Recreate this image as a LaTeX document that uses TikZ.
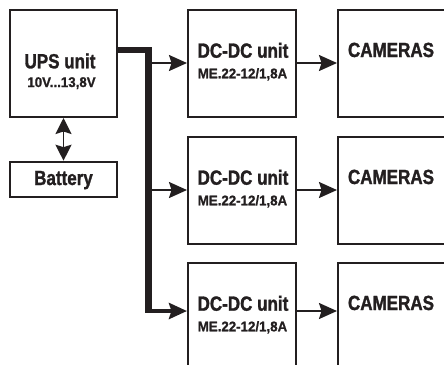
\documentclass[tikz,border=0pt]{standalone}
\usepackage{fontspec}
\usetikzlibrary{arrows.meta}
\newfontfamily\headfont{Liberation Sans}[FakeStretch=0.83, FakeBold=1.4]
\newfontfamily\ratingfont{Liberation Sans}[FakeStretch=0.95, FakeBold=1]
\definecolor{inkblack}{RGB}{35,31,32}

\begin{document}
\begin{tikzpicture}[x=1bp, y=-1bp,
    unitbox/.style={draw=inkblack, line width=2bp, minimum width=107bp,
                    minimum height=107bp, inner sep=0pt},
    unitname/.style={anchor=base, inner sep=0pt, text=inkblack,
                     font=\headfont\bfseries\fontsize{20.5bp}{24bp}\selectfont},
    rating/.style={anchor=base, inner sep=0pt, text=inkblack,
                   font=\ratingfont\bfseries\fontsize{14bp}{16bp}\selectfont},
    arr/.style={-{Stealth[length=18bp, width=16bp, inset=2.5bp]}, line width=1.8bp, inkblack},
    dblarr/.style={{Stealth[length=16bp, width=16bp, inset=2.5bp]}-{Stealth[length=16bp, width=16bp, inset=2.5bp]},
                   line width=1.8bp, inkblack},
    bus/.style={line width=6.5bp, inkblack},
  ]
    \useasboundingbox (0,0) rectangle (444,364);
    \clip (0,0) rectangle (444,364);
    % supply side
    \node[unitbox] (ups) at (63.5,63.5) {};
    \node[unitbox, minimum height=35bp] (bat) at (63.5,179.2) {};
    \node[unitname] (ups-name) at (60,68.3) {UPS unit};
    \node[rating] (ups-range) at (61.5,87) {10V...13,8V};
    \node[unitname] (bat-name) at (63.5,185) {Battery};
    \draw[dblarr] (ups) -- (bat);
    % converter rows
    \foreach \r/\dy/\ay in {1/0/63, 2/127/190, 3/253/311} {
      \node[unitbox, minimum width=108bp] (dc\r) at (242,63.5+\dy) {};
      \node[unitbox, minimum width=108bp] (cam\r) at (392,63.5+\dy) {};
      \node[unitname] (dc\r-name) at (243,57.7+\dy) {DC-DC unit};
      \node[rating] (dc\r-type) at (242.5,78.3+\dy) {ME.22-12/1,8A};
      \node[unitname] (cam\r-name) at (391,57+\dy) {CAMERAS};
      \draw[arr] (dc\r.east |- 0,\ay) -- (cam\r.west |- 0,\ay);
    }
    % power bus
    \coordinate (tap) at (148.3,311);
    \draw[bus] (ups.east |- 0,50) -| (tap);
    \draw[arr, line width=4bp] ([xshift=-3.25bp]tap) -- (dc3.west |- tap);
    \draw[arr] (tap |- 0,63) -- (dc1.west |- 0,63);
    \draw[arr] (tap |- 0,190) -- (dc2.west |- 0,190);
  \end{tikzpicture}
\end{document}
